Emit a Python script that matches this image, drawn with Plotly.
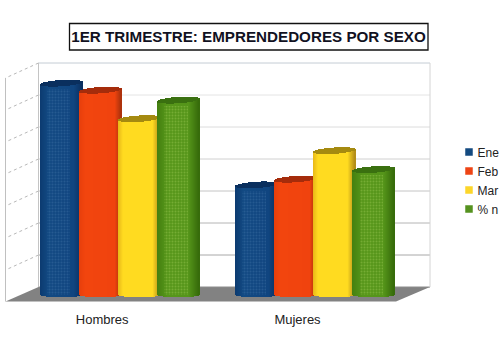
import math
import plotly.graph_objects as go

categories = ["Hombres", "Mujeres"]
series_names = ["Ene", "Feb", "Mar", "% n"]
enero = [6.62, 3.44]
febrero = [6.40, 3.62]
marzo = [5.51, 4.51]
pct = [6.09, 3.92]
series_values = [enero, febrero, marzo, pct]
legend_colors = ["#134a80", "#ee4415", "#fcd62a", "#55921f"]
cap_colors = ["#0a2f5e", "#a52c0b", "#a58a10", "#3a7010"]
gradients = [
    [(0, "#0c3a70"), (0.2, "#124a83"), (0.8, "#104580"), (1, "#0a2f5f")],
    [(0, "#e63f0c"), (0.15, "#f2450e"), (0.85, "#f0430e"), (1, "#a8310c")],
    [(0, "#e8b818"), (0.12, "#ffdb20"), (0.82, "#ffdb20"), (1, "#b08a18")],
    [(0, "#44800f"), (0.25, "#56961a"), (0.75, "#55951a"), (1, "#356a0a")],
]
dot_colors = ["rgba(90,135,185,0.55)", None, None, "rgba(190,225,110,0.6)"]
grid_levels = [0, 1, 2, 3, 4, 5, 6, 7]
grid_colors = ["#8c8c8c", "#a8a8a8", "#b4b4b4", "#c4c4c4", "#d0d0d0", "#dcdcdc", "#e4e4e4", "#c4ccd4"]

W, H = 500, 357
PX_X = 195.3        # pixels per category
X0 = 102.2          # pixel of first category
PX_Y = 32.0         # pixels per value unit
Y0 = 287.0          # pixel of value 0 (back of the floor)
YBOT = 310.0        # bottom edge of the plot area
N = 42              # slices per cylinder
BAR_W = 42 / PX_X
STEP = 39.1 / PX_X
FIRST = (40 - X0) / PX_X
BASE = -8 / PX_Y    # cylinders stand in front of the back wall


def xf(px):
    return (px - X0) / PX_X


def yf(py):
    return (Y0 - py) / PX_Y


def mix(stops, t):
    for (a, ca), (b, cb) in zip(stops, stops[1:]):
        if t <= b:
            f = (t - a) / (b - a)
            va = [int(ca[i:i + 2], 16) for i in (1, 3, 5)]
            vb = [int(cb[i:i + 2], 16) for i in (1, 3, 5)]
            return "rgb(%d,%d,%d)" % tuple(round(p + (q - p) * f) for p, q in zip(va, vb))
    return stops[-1][1]


fig = go.Figure()

for s, (name, vals) in enumerate(zip(series_names, series_values)):
    xs, ys, bases, offs, widths, cols = [], [], [], [], [], []
    for c, (cat, v) in enumerate(zip(categories, vals)):
        for i in range(N):
            t = (i + 0.5) / N
            u = 2 * t - 1
            arc = math.sqrt(max(0, 1 - u * u))
            tilt = 1.3 * u / PX_Y
            off = FIRST + s * STEP + t * BAR_W - BAR_W / N / 2
            wid = BAR_W / N * 1.25
            # bottom rounded edge, side of the cylinder, dark top ellipse
            b0 = BASE - 2.2 * arc / PX_Y
            front = BASE + v - 3.2 * arc / PX_Y + tilt
            back = BASE + v + 3.2 * arc / PX_Y + tilt
            xs += [cat, cat]
            bases += [b0, front]
            ys += [front - b0, back - front]
            offs += [off, off]
            widths += [wid, wid]
            cols += [mix(gradients[s], t), cap_colors[s]]
    fig.add_trace(go.Bar(x=xs, y=ys, base=bases, offset=offs, width=widths,
                         marker=dict(color=cols, line=dict(width=0)),
                         showlegend=False, hoverinfo="skip"))
    if dot_colors[s]:
        fig.add_trace(go.Bar(
            x=categories, y=[v - 0.18 for v in vals], base=[BASE] * 2,
            offset=FIRST + s * STEP + 0.17 * BAR_W, width=0.55 * BAR_W,
            marker=dict(color="rgba(0,0,0,0)", line=dict(width=0),
                        pattern=dict(shape=".", fgcolor=dot_colors[s], bgcolor="rgba(0,0,0,0)",
                                     size=3, solidity=0.35)),
            showlegend=False, hoverinfo="skip"))

for name, col in zip(series_names, legend_colors):
    fig.add_trace(go.Scatter(x=[None], y=[None], mode="markers", name=name,
                             marker=dict(symbol="square", size=7.5, color=col)))

shapes = []
# floor
shapes.append(dict(type="path", layer="below", line=dict(width=0), fillcolor="#828282",
                   path="M %f,%f L %f,%f L %f,%f L %f,%f Z" % (
                       xf(5.5), yf(301.5), xf(38.5), yf(287), xf(430), yf(287), xf(396), yf(301.5))))
# walls
for g, col in zip(grid_levels, grid_colors):
    y = g
    shapes.append(dict(type="line", layer="below", x0=xf(38.5), x1=xf(430), y0=y, y1=y,
                       line=dict(color=col, width=1)))
    if g > 0:
        shapes.append(dict(type="line", layer="below", x0=xf(38.5), x1=xf(5.5), y0=y, y1=y - 15 / PX_Y,
                           line=dict(color="#b8b8b8", width=1, dash="dot")))
shapes.append(dict(type="line", layer="below", x0=xf(38.5), x1=xf(38.5), y0=0, y1=7,
                   line=dict(color="#c4c4c4", width=1)))
shapes.append(dict(type="line", layer="below", x0=xf(430), x1=xf(430), y0=0, y1=7,
                   line=dict(color="#d4d4d4", width=1)))
shapes.append(dict(type="line", layer="below", x0=xf(5.5), x1=xf(5.5), y0=yf(78), y1=yf(301.5),
                   line=dict(color="#c0c0c0", width=1)))
# title frame
shapes.append(dict(type="rect", layer="below", x0=xf(69.5), x1=xf(428), y0=yf(23.5), y1=yf(50),
                   line=dict(color="#111111", width=1.3), fillcolor="white"))

fig.update_layout(
    width=W, height=H, autosize=False,
    margin=dict(l=0, r=0, t=0, b=0, pad=0, autoexpand=False),
    paper_bgcolor="white", plot_bgcolor="rgba(0,0,0,0)",
    barmode="overlay", bargap=0,
    font=dict(family="Liberation Sans, Arial, sans-serif", size=13, color="#222222"),
    title=dict(text="<b>1ER TRIMESTRE: EMPRENDEDORES POR SEXO</b>",
               x=248.5 / W, xanchor="center", y=1 - 36.5 / H, yanchor="middle",
               font=dict(size=15.2, color="#111122")),
    xaxis=dict(type="category", categoryorder="array", categoryarray=categories,
               range=[xf(0), xf(W)], domain=[0, 1], showgrid=False, zeroline=False,
               showline=False, ticks="", tickfont=dict(size=13, color="#222222")),
    yaxis=dict(range=[yf(YBOT), yf(0)], domain=[(H - YBOT) / H, 1], showgrid=False,
               zeroline=False, showline=False, showticklabels=False, ticks=""),
    shapes=shapes,
    legend=dict(x=449.5 / W, xanchor="left", y=1 - 137.5 / H, yanchor="top",
                bgcolor="rgba(0,0,0,0)", font=dict(size=12, color="#222222"),
                tracegroupgap=0, indentation=-12),
)

POST = """
document.body.style.margin='0';
document.documentElement.style.overflow='hidden';
var gd=document.getElementById('{plot_id}');
function nudge(){
  document.querySelectorAll('.legend .legendsymbols').forEach(function(g){
    g.setAttribute('transform','translate(11.5,0)');
  });
}
nudge();
gd.on('plotly_afterplot',nudge);
setTimeout(nudge,50);
"""

fig.write_html("out.html", config=dict(displayModeBar=False), post_script=POST)
